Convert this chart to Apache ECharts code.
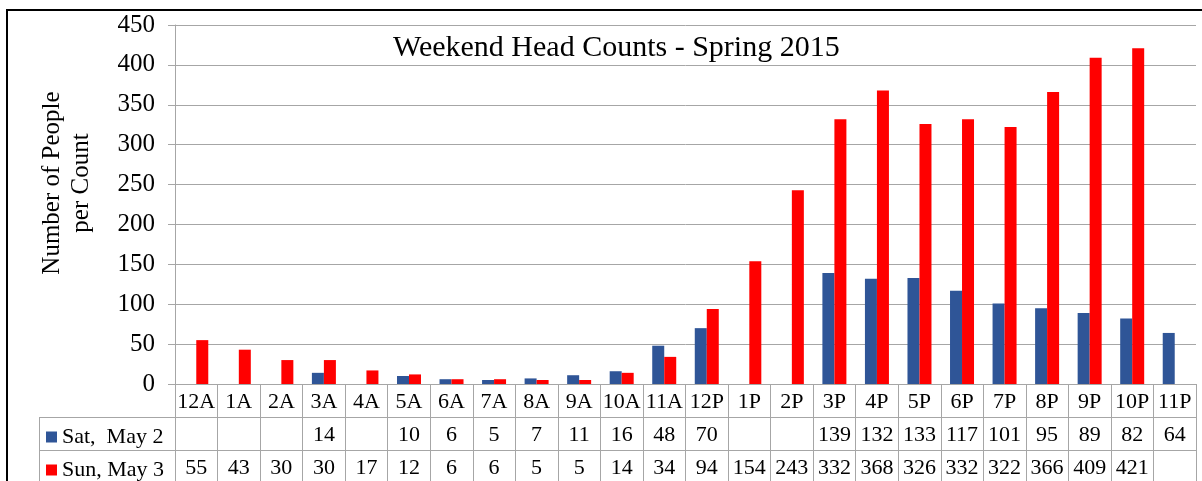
<!DOCTYPE html>
<html>
<head>
<meta charset="utf-8">
<title>Weekend Head Counts - Spring 2015</title>
<script src="https://cdn.jsdelivr.net/npm/echarts@6/dist/echarts.min.js"></script>
<style>
    html, body {margin: 0; padding: 0; background: #fff;}
    #chart {width: 1202px; height: 481px;}
</style>
</head>
<body>
<div id="chart"></div>
<script>
// 时段
var hours = ['12A', '1A', '2A', '3A', '4A', '5A', '6A', '7A', '8A', '9A', '10A', '11A',
    '12P', '1P', '2P', '3P', '4P', '5P', '6P', '7P', '8P', '9P', '10P', '11P'];
// 周六
var satCounts = [null, null, null, 14, null, 10, 6, 5, 7, 11, 16, 48,
    70, null, null, 139, 132, 133, 117, 101, 95, 89, 82, 64];
// 周日
var sunCounts = [55, 43, 30, 30, 17, 12, 6, 6, 5, 5, 14, 34,
    94, 154, 243, 332, 368, 326, 332, 322, 366, 409, 421, null];
var yTicks = [0, 50, 100, 150, 200, 250, 300, 350, 400, 450];

var SAT_NAME = 'Sat,  May 2';
var SUN_NAME = 'Sun, May 3';
var FONT = '"Liberation Serif", "Times New Roman", serif';
var LINE = '#A6A6A6';

/**
 * 表格行 (x轴偏移实现)
 */
function tableAxis(offset, values) {
    return {
        type: 'category',
        data: hours,
        position: 'bottom',
        offset: offset,
        axisLine: {show: true, lineStyle: {color: LINE, width: 1}},
        axisTick: {show: true, interval: 0, length: 33, lineStyle: {color: LINE, width: 1}},
        axisLabel: {
            interval: 0,
            margin: 7,
            color: '#000',
            fontFamily: FONT,
            fontSize: 22,
            formatter: function (value, index) {
                if (!values) {
                    return value;
                }
                return values[index] == null ? '' : String(values[index]);
            }
        },
        splitLine: {show: false}
    };
}

/**
 * 图例(每行一个)
 */
function rowLegend(name, top) {
    return {
        left: 46,
        top: top,
        padding: 0,
        itemWidth: 11,
        itemHeight: 11,
        icon: 'rect',
        selectedMode: false,
        data: [name],
        textStyle: {fontFamily: FONT, fontSize: 22, color: '#000'}
    };
}

var myChart = echarts.init(document.getElementById('chart'));
var option = {
    animation: false,
    backgroundColor: '#fff',
    title: {
        text: 'Weekend Head Counts - Spring 2015',
        left: 388,
        top: 28,
        textStyle: {fontFamily: FONT, fontSize: 30, fontWeight: 'normal', color: '#000'}
    },
    legend: [
        rowLegend(SAT_NAME, 426),
        rowLegend(SUN_NAME, 459)
    ],
    grid: {left: 175, right: 6, top: 25, bottom: 97, containLabel: false},
    xAxis: [
        tableAxis(0, null),
        tableAxis(33, satCounts),
        tableAxis(66, sunCounts)
    ],
    yAxis: {
        type: 'value',
        min: yTicks[0],
        max: yTicks[yTicks.length - 1],
        interval: 50,
        axisLine: {show: true, lineStyle: {color: LINE}},
        axisTick: {show: true, length: 7, lineStyle: {color: LINE}},
        axisLabel: {margin: 20, color: '#000', fontFamily: FONT, fontSize: 25},
        splitLine: {show: true, lineStyle: {color: LINE, width: 1}}
    },
    graphic: [
        {
            type: 'text',
            x: 67,
            y: 183,
            rotation: Math.PI / 2,
            style: {
                text: 'Number of People\nper Count',
                fontFamily: FONT,
                fontSize: 25,
                lineHeight: 29,
                fill: '#000',
                align: 'center',
                verticalAlign: 'middle'
            }
        },
        // 图例格子边框
        {type: 'line', shape: {x1: 39, y1: 417.5, x2: 175, y2: 417.5}, style: {stroke: LINE, lineWidth: 1}},
        {type: 'line', shape: {x1: 39, y1: 450.5, x2: 175, y2: 450.5}, style: {stroke: LINE, lineWidth: 1}},
        {type: 'line', shape: {x1: 39.5, y1: 417, x2: 39.5, y2: 481}, style: {stroke: LINE, lineWidth: 1}},
        // 外框
        {type: 'rect', shape: {x: 7, y: 10, width: 1300, height: 600}, style: {fill: 'none', stroke: '#000', lineWidth: 2}}
    ],
    series: [
        {
            name: SAT_NAME,
            type: 'bar',
            xAxisIndex: 0,
            data: satCounts,
            barWidth: 12,
            barGap: '0%',
            itemStyle: {color: '#2F5597'}
        },
        {
            name: SUN_NAME,
            type: 'bar',
            xAxisIndex: 0,
            data: sunCounts,
            barWidth: 12,
            barGap: '0%',
            itemStyle: {color: '#FF0000'}
        }
    ]
};
myChart.setOption(option);
</script>
</body>
</html>
